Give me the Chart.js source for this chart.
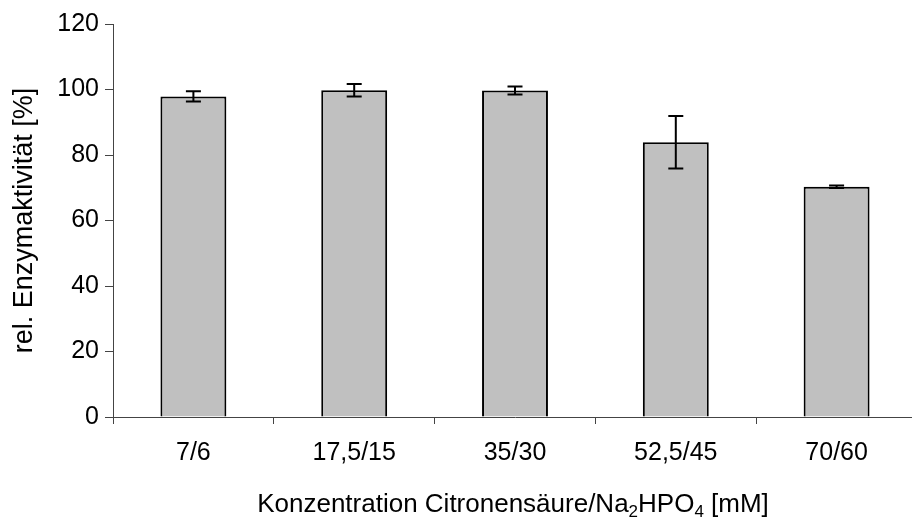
<!DOCTYPE html>
<html>
<head>
<meta charset="utf-8">
<script src="https://cdn.jsdelivr.net/npm/chart.js@4/dist/chart.umd.min.js"></script>
<style>
  html, body { margin: 0; padding: 0; background: #fff; overflow: hidden; }
  #wrap { width: 912px; height: 517px; overflow: hidden; }
</style>
</head>
<body>
<div id="wrap"><canvas id="chart" width="917" height="517"></canvas></div>
<script>
var categories = ["7/6", "17,5/15", "35/30", "52,5/45", "70/60"];
var activity = [97.9, 99.8, 99.7, 83.9, 70.3];
var activityErr = [1.6, 1.9, 1.2, 8.0, 0.4];
var yTicks = [0, 20, 40, 60, 80, 100, 120];

var fontFamily = "'Liberation Sans', Arial, sans-serif";

// error bars on top of each bar, positioned through the y scale
var errorBars = {
	id: "errorBars",
	afterDatasetsDraw: function(chart) {
		var ctx = chart.ctx;
		var y = chart.scales.y;
		var meta = chart.getDatasetMeta(0);
		ctx.save();
		ctx.strokeStyle = "#000";
		ctx.lineWidth = 2;
		meta.data.forEach(function(bar, i) {
			var top = y.getPixelForValue(activity[i] + activityErr[i]);
			var bot = y.getPixelForValue(activity[i] - activityErr[i]);
			ctx.beginPath();
			ctx.moveTo(bar.x, top);
			ctx.lineTo(bar.x, bot);
			ctx.moveTo(bar.x - 7.5, top);
			ctx.lineTo(bar.x + 7.5, top);
			ctx.moveTo(bar.x - 7.5, bot);
			ctx.lineTo(bar.x + 7.5, bot);
			ctx.stroke();
		});
		ctx.restore();
	}
};

// axis titles (x title needs subscripts, so both are drawn by hand)
var axisTitles = {
	id: "axisTitles",
	afterDraw: function(chart) {
		var ctx = chart.ctx;
		var area = chart.chartArea;
		ctx.save();
		ctx.fillStyle = "#000";
		ctx.textBaseline = "alphabetic";

		// y title
		ctx.font = "27px " + fontFamily;
		ctx.textAlign = "center";
		ctx.translate(area.left - 81, (area.top + area.bottom) / 2);
		ctx.rotate(-Math.PI / 2);
		ctx.fillText("rel. Enzymaktivität [%]", 0, 0);
		ctx.restore();

		// x title with subscripts
		var parts = [
			["Konzentration Citronensäure/Na", false],
			["2", true],
			["HPO", false],
			["4", true],
			[" [mM]", false]
		];
		ctx.save();
		ctx.fillStyle = "#000";
		ctx.textAlign = "left";
		ctx.textBaseline = "alphabetic";
		var total = 0;
		parts.forEach(function(p) {
			ctx.font = (p[1] ? "17px " : "26px ") + fontFamily;
			total += ctx.measureText(p[0]).width;
		});
		var x = (area.left + area.right) / 2 - total / 2 - 2;
		var base = area.bottom + 95;
		parts.forEach(function(p) {
			ctx.font = (p[1] ? "17px " : "26px ") + fontFamily;
			ctx.fillText(p[0], x, p[1] ? base + 5 : base);
			x += ctx.measureText(p[0]).width;
		});
		ctx.restore();
	}
};

var ctx = document.getElementById("chart").getContext("2d");
var chart = new Chart(ctx, {
	type: "bar",
	data: {
		labels: categories,
		datasets: [{
			data: activity,
			backgroundColor: "#c0c0c0",
			borderColor: "#000",
			borderWidth: 2,
			categoryPercentage: 1.0,
			barPercentage: 0.41
		}]
	},
	options: {
		responsive: false,
		animation: false,
		layout: { padding: { top: 24, right: 0, left: 0, bottom: 0 } },
		plugins: {
			legend: { display: false },
			tooltip: { enabled: false }
		},
		scales: {
			x: {
				offset: true,
				border: { color: "#444", width: 1 },
				grid: {
					offset: true,
					drawOnChartArea: false,
					drawTicks: true,
					tickLength: 7,
					color: "#444"
				},
				ticks: {
					color: "#000",
					font: { family: fontFamily, size: 25 },
					padding: 14,
					maxRotation: 0
				},
				afterFit: function(scale) { scale.height = 100; }
			},
			y: {
				min: 0,
				max: 120,
				afterBuildTicks: function(scale) {
					scale.ticks = yTicks.map(function(v) { return { value: v }; });
				},
				border: { color: "#444", width: 1 },
				grid: {
					drawOnChartArea: false,
					drawTicks: true,
					tickLength: 8,
					color: "#444"
				},
				ticks: {
					color: "#000",
					font: { family: fontFamily, size: 25 },
					padding: 6
				},
				afterFit: function(scale) { scale.width = 113; }
			}
		}
	},
	plugins: [errorBars, axisTitles]
});
</script>
</body>
</html>
